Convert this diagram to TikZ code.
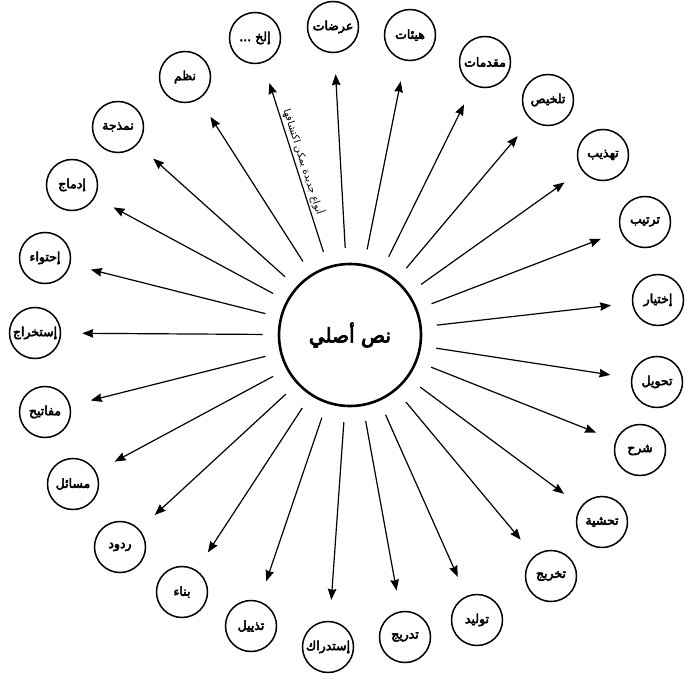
\documentclass[tikz,border=0pt]{standalone}
\usepackage{fontspec}
\TeXXeTstate=1
\newfontfamily\arabicfont[Script=Arabic]{DejaVu Sans}
\newfontfamily\arabicheavy[Script=Arabic,FakeBold=4]{DejaVu Sans}
\usetikzlibrary{arrows.meta}
\newcommand{\artxt}[1]{\makebox[0pt]{\arabicheavy\beginR #1\endR}}
\tikzset{
  core/.style={circle,draw=black,line width=2.6pt,minimum size=142pt,inner sep=0pt,
               font=\fontsize{20}{24}\selectfont},
  bubble/.style={circle,draw=black,line width=1.5pt,minimum size=51pt,inner sep=0pt,
                 font=\fontsize{12.5}{15}\selectfont},
  flow/.style={-{Stealth[length=11pt,width=8.5pt,inset=1pt]},draw=black,line width=1.2pt,
               shorten <=15pt,shorten >=21pt},
  note/.style={font=\fontsize{10}{12}\selectfont,inner sep=1pt},
}

\begin{document}
\begin{tikzpicture}[x=1pt,y=-1pt]
  \useasboundingbox (0,0) rectangle (686,674);
  \node[core] (nass) at (350,335) {\artxt{نص أصلي}};
  \node[bubble] (ardat) at (333,27) {\artxt{عرضات}};
  \node[bubble] (hayat) at (410,35) {\artxt{هيئات}};
  \node[bubble] (muqad) at (485,62) {\artxt{مقدمات}};
  \node[bubble] (talkhis) at (548,100) {\artxt{تلخيص}};
  \node[bubble] (tahdhib) at (603,155) {\artxt{تهذيب}};
  \node[bubble] (tartib) at (645,222) {\artxt{ترتيب}};
  \node[bubble] (ikhtiyar) at (658,300) {\artxt{إختيار}};
  \node[bubble] (tahwil) at (657,382) {\artxt{تحويل}};
  \node[bubble] (sharh) at (640,450) {\artxt{شرح}};
  \node[bubble] (tahshiya) at (602,522) {\artxt{تحشية}};
  \node[bubble] (takhrij) at (551,576) {\artxt{تخريج}};
  \node[bubble] (tawlid) at (477,620) {\artxt{توليد}};
  \node[bubble] (tadrij) at (405,637) {\artxt{تدريج}};
  \node[bubble] (istidrak) at (328,647) {\artxt{إستدراك}};
  \node[bubble] (tadhyil) at (251,626) {\artxt{تذييل}};
  \node[bubble] (bina) at (182,592) {\artxt{بناء}};
  \node[bubble] (rudud) at (120,547) {\artxt{ردود}};
  \node[bubble] (masail) at (73,484) {\artxt{مسائل}};
  \node[bubble] (mafatih) at (45,412) {\artxt{مفاتيح}};
  \node[bubble] (istikhraj) at (35,333) {\artxt{إستخراج}};
  \node[bubble] (ihtiwa) at (45,258) {\artxt{إحتواء}};
  \node[bubble] (idmaj) at (72,185) {\artxt{إدماج}};
  \node[bubble] (namdhaja) at (118,127) {\artxt{نمذجة}};
  \node[bubble] (nazm) at (185,77) {\artxt{نظم}};
  \node[bubble] (ilakh) at (255,38) {\artxt{إلخ ...}};
  \draw[flow] (nass) -- (ardat);
  \draw[flow] (nass) -- (hayat);
  \draw[flow] (nass) -- (muqad);
  \draw[flow] (nass) -- (talkhis);
  \draw[flow] (nass) -- (tahdhib);
  \draw[flow] (nass) -- (tartib);
  \draw[flow] (nass) -- (ikhtiyar);
  \draw[flow] (nass) -- (tahwil);
  \draw[flow] (nass) -- (sharh);
  \draw[flow] (nass) -- (tahshiya);
  \draw[flow] (nass) -- (takhrij);
  \draw[flow] (nass) -- (tawlid);
  \draw[flow] (nass) -- (tadrij);
  \draw[flow] (nass) -- (istidrak);
  \draw[flow] (nass) -- (tadhyil);
  \draw[flow] (nass) -- (bina);
  \draw[flow] (nass) -- (rudud);
  \draw[flow] (nass) -- (masail);
  \draw[flow] (nass) -- (mafatih);
  \draw[flow] (nass) -- (istikhraj);
  \draw[flow] (nass) -- (ihtiwa);
  \draw[flow] (nass) -- (idmaj);
  \draw[flow] (nass) -- (namdhaja);
  \draw[flow] (nass) -- (nazm);
  \draw[flow] (nass) -- node[note,sloped,above=1pt,pos=0.5] {\arabicfont\beginR أنواع جديدة يمكن اكتشافها\endR} (ilakh);
\end{tikzpicture}
\end{document}
